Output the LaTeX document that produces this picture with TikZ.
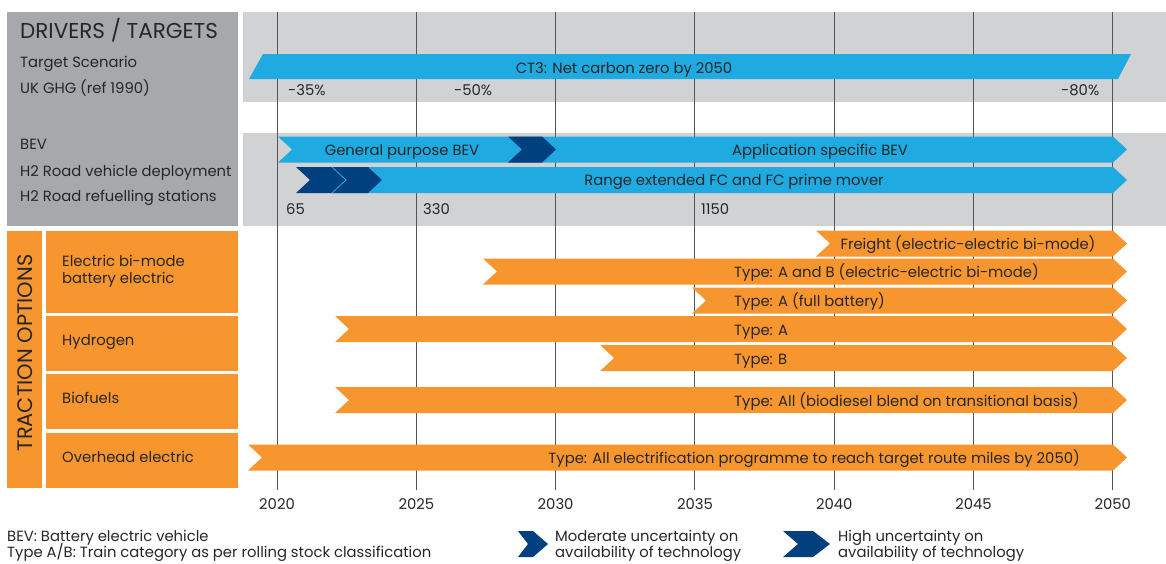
\documentclass[tikz,border=0pt]{standalone}
\usepackage{fontspec}
\setmainfont{Poppins}
\definecolor{chartgrey}{HTML}{D1D2D4}
\definecolor{boxgrey}{HTML}{A7A8AB}
\definecolor{skyblue}{HTML}{1FAAE1}
\definecolor{navy}{HTML}{00407F}
\definecolor{amber}{HTML}{F7962F}
\definecolor{ink}{HTML}{262626}
\definecolor{gridgrey}{HTML}{555555}
% notched bar with arrow tip: colour, left x, right x, centre y
\newcommand{\tlbar}[4]{\fill[#1] (#2,#4-13) -- (#3,#4-13) -- (#3+14,#4) -- (#3,#4+13) -- (#2,#4+13) -- (#2+14,#4) -- cycle;}
\tikzset{
  txt/.style={anchor=base west, inner sep=0pt, text=ink, font=\fontsize{14.8}{17}\selectfont},
  mid/.style={txt, anchor=base},
  rgt/.style={txt, anchor=base east},
  title/.style={txt, font=\fontsize{21.5}{24}\selectfont},
  gridline/.style={draw=gridgrey, line width=0.9pt}
}
\begin{document}
\begin{tikzpicture}[x=1pt,y=-1pt]
  \useasboundingbox (0,0) rectangle (1166,563);
  % panels
  \fill[boxgrey] (7,12) rectangle (238,226);
  \fill[chartgrey] (243,12) rectangle (1166,102);
  \fill[chartgrey] (243,133) rectangle (1166,226);
  \fill[amber] (7,231) rectangle (42,488);
  \fill[amber] (46,231) rectangle (238,313);
  \fill[amber] (46,316) rectangle (238,371);
  \fill[amber] (46,374) rectangle (238,429);
  \fill[amber] (46,433) rectangle (238,488);
  % year lines
  \draw[gridline] (277,12) -- (277,490);
  \draw[gridline] (416.3,12) -- (416.3,490);
  \draw[gridline] (555.6,12) -- (555.6,490);
  \draw[gridline] (694.9,12) -- (694.9,490);
  \draw[gridline] (834.2,12) -- (834.2,490);
  \draw[gridline] (973.5,12) -- (973.5,490);
  \draw[gridline] (1112.8,12) -- (1112.8,490);
  % drivers
  \fill[skyblue] (249,79) -- (263,54) -- (1131,54) -- (1118,79) -- cycle;
  \tlbar{skyblue}{278}{1113}{149.5}
  \tlbar{navy}{508}{542}{149.5}
  \tlbar{skyblue}{332}{1113}{180}
  \tlbar{navy}{296}{332}{180}
  \tlbar{navy}{332}{368}{180}
  \draw[skyblue, line width=0.8pt] (332,167) -- (346,180) -- (332,193);
  % traction options
  \tlbar{amber}{816}{1113}{243.5}
  \tlbar{amber}{483}{1113}{271.5}
  \tlbar{amber}{692}{1113}{300.5}
  \tlbar{amber}{335}{1113}{329}
  \tlbar{amber}{600}{1113}{358}
  \tlbar{amber}{335}{1113}{400}
  \tlbar{amber}{248}{1113}{457.5}
  % left labels
  \node[title] (drv) at (20,38.5) {DRIVERS / TARGETS};
  \node[txt] (scen) at (20,67.7) {Target Scenario};
  \node[txt] (ghg) at (20,93.5) {UK GHG (ref 1990)};
  \node[txt] (bev) at (20,149.3) {BEV};
  \node[txt] (hveh) at (20,176) {H2 Road vehicle deployment};
  \node[txt] (hsta) at (20,201.7) {H2 Road refuelling stations};
  \node[rotate=90, inner sep=0pt, text=ink, font=\fontsize{21}{22}\selectfont] (trac) at (25,353) {TRACTION OPTIONS};
  \node[txt] (bim1) at (62,266) {Electric bi-mode};
  \node[txt] (bim2) at (62,283.5) {battery electric};
  \node[txt] (hyd) at (62,345.7) {Hydrogen};
  \node[txt] (bio) at (62,403) {Biofuels};
  \node[txt] (ohe) at (62,462) {Overhead electric};
  % bar texts
  \node[mid] (ct3) at (624,73) {CT3: Net carbon zero by 2050};
  \node[txt] (p35) at (288,95) {-35\%};
  \node[txt] (p50) at (454,95) {-50\%};
  \node[txt] (p80) at (1061,95) {-80\%};
  \node[mid] (genbev) at (402,155) {General purpose BEV};
  \node[mid] (appbev) at (820,155) {Application specific BEV};
  \node[mid] (rangefc) at (734,185.5) {Range extended FC and FC prime mover};
  \node[txt] (n65) at (286,214) {65};
  \node[txt] (n330) at (423,214) {330};
  \node[txt] (n1150) at (701,214) {1150};
  \node[mid] (freight) at (968,249.5) {Freight (electric-electric bi-mode)};
  \node[txt] (typeab) at (734,277.5) {Type: A and B (electric-electric bi-mode)};
  \node[txt] (typefull) at (734,306.5) {Type: A (full battery)};
  \node[txt] (typea) at (734,335) {Type: A};
  \node[txt] (typeb) at (734,364) {Type: B};
  \node[txt] (typebio) at (734,406) {Type: All (biodiesel blend on transitional basis)};
  \node[rgt] (typeohe) at (1080,463.5) {Type: All electrification programme to reach target route miles by 2050)};
  % years
  \node[mid] (y2020) at (277,509) {2020};
  \node[mid] (y2025) at (416.3,509) {2025};
  \node[mid] (y2030) at (555.6,509) {2030};
  \node[mid] (y2035) at (694.9,509) {2035};
  \node[mid] (y2040) at (834.2,509) {2040};
  \node[mid] (y2045) at (973.5,509) {2045};
  \node[mid] (y2050) at (1112.8,509) {2050};
  % key
  \node[txt] (keybev) at (7,541) {BEV: Battery electric vehicle};
  \node[txt] (keytype) at (7,557.5) {Type A/B: Train category as per rolling stock classification};
  \fill[navy] (518,531) -- (533,531) -- (548,544) -- (533,557) -- (518,557) -- (528,544) -- cycle;
  \node[txt] (mod1) at (555,541) {Moderate uncertainty on};
  \node[txt] (mod2) at (555,557.5) {availability of technology};
  \fill[navy] (783,531) -- (813,531) -- (830,544) -- (813,557) -- (783,557) -- (798,544) -- cycle;
  \node[txt] (high1) at (838,541) {High uncertainty on};
  \node[txt] (high2) at (838,557.5) {availability of technology};
\end{tikzpicture}
\end{document}
